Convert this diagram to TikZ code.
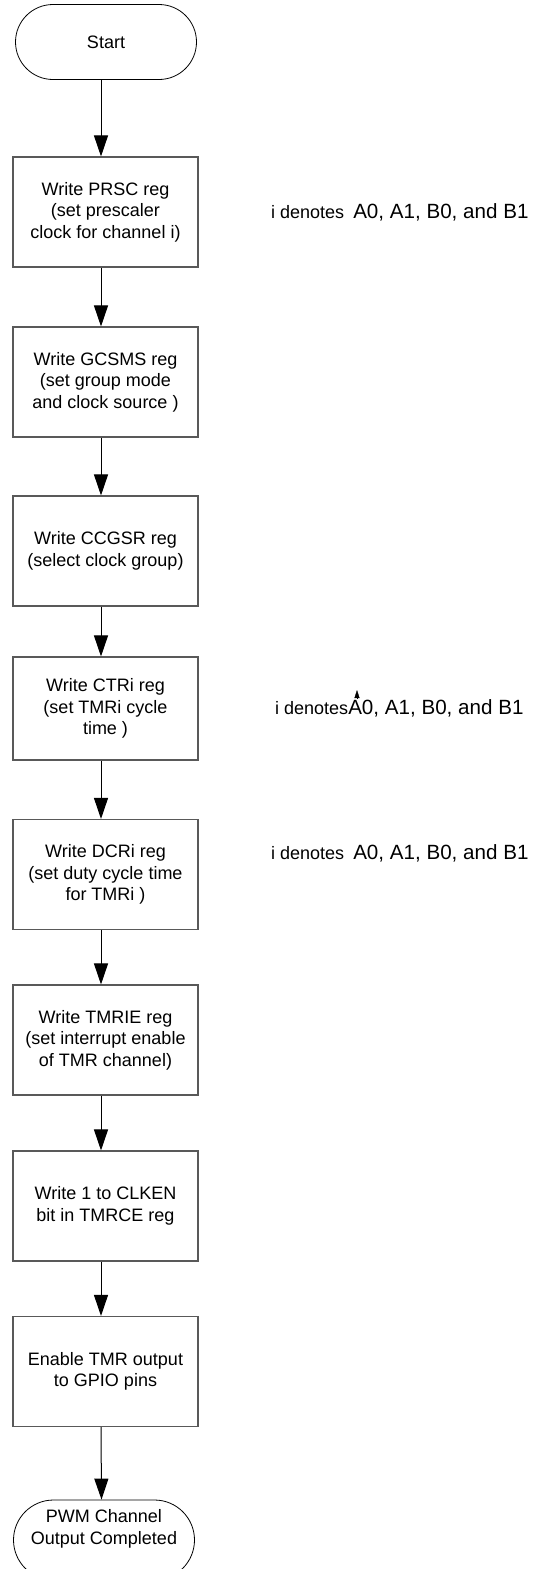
\documentclass[tikz,border=0pt]{standalone}
\usepackage{fontspec}
\setmainfont{Liberation Sans}
\usetikzlibrary{arrows.meta,shapes.misc}

\begin{document}
\begin{tikzpicture}[x=1pt,y=-1pt,
  stepbox/.style={draw=black!65,line width=1.1pt,minimum width=185pt,minimum height=110pt,align=center,inner sep=2pt,font=\fontsize{18}{21.6}\selectfont},
  termbox/.style={draw,line width=.8pt,rounded rectangle,minimum width=185pt,minimum height=75pt,align=center,inner sep=2pt,font=\fontsize{18}{21.6}\selectfont},
  flow/.style={line width=1pt,-{Triangle[width=14pt,length=21pt]}},
  note/.style={anchor=west,inner sep=0pt,font=\fontsize{18}{21.6}\selectfont}]
\useasboundingbox (0,0) rectangle (534,1569);
% flow steps
\node[termbox] (start) at (106,42) {Start};
\node[stepbox] (prsc) at (105.5,212) {Write PRSC reg\\(set prescaler\\clock for channel i)};
\node[stepbox] (gcsms) at (105.5,382) {Write GCSMS reg\\(set group mode\\and clock source )};
\node[stepbox] (ccgsr) at (105.5,551) {Write CCGSR reg\\(select clock group)};
\node[stepbox,minimum height=103pt] (ctri) at (105.5,708.5) {Write CTRi reg\\(set TMRi cycle\\time )};
\node[stepbox] (dcri) at (105.5,874.5) {Write DCRi reg\\(set duty cycle time\\for TMRi )};
\node[stepbox] (tmrie) at (105.5,1040) {Write TMRIE reg\\(set interrupt enable\\of TMR channel)};
\node[stepbox] (clken) at (105.5,1206) {Write 1 to CLKEN\\bit in TMRCE reg};
\node[stepbox] (gpio) at (105.5,1371.5) {Enable TMR output\\to GPIO pins};
\node[termbox,minimum height=80pt] (done) at (104,1540) {PWM Channel\\Output Completed\\[4pt]};
% arrows
\draw[flow] ([xshift=-5pt]start.south) -- ([xshift=-4.5pt]prsc.north);
\draw[flow] ([xshift=-4.5pt]prsc.south) -- ([xshift=-4.5pt]gcsms.north);
\draw[flow] ([xshift=-4.5pt]gcsms.south) -- ([xshift=-4.5pt]ccgsr.north);
\draw[flow] ([xshift=-4.5pt]ccgsr.south) -- ([xshift=-4.5pt]ctri.north);
\draw[flow] ([xshift=-4.5pt]ctri.south) -- ([xshift=-4.5pt]dcri.north);
\draw[flow] ([xshift=-4.5pt]dcri.south) -- ([xshift=-4.5pt]tmrie.north);
\draw[flow] ([xshift=-4.5pt]tmrie.south) -- ([xshift=-4.5pt]clken.north);
\draw[flow] ([xshift=-4.5pt]clken.south) -- ([xshift=-4.5pt]gpio.north);
\draw[flow] ([xshift=-4.5pt]gpio.south) -- ([xshift=-2.5pt]done.north);
% notes
\node[note] (noteprsc) at (271,212) {i denotes\hspace{9pt}{\fontsize{20.6}{24}\selectfont A0, A1, B0, and B1}};
\node[note] (notectri) at (275,708) {i denotes{\fontsize{20.6}{24}\selectfont A0, A1, B0, and B1}};
\node[note] (notedcri) at (271,853) {i denotes\hspace{9pt}{\fontsize{20.6}{24}\selectfont A0, A1, B0, and B1}};
\draw[-{Triangle[width=5pt,length=8pt]}] (357,699) -- (357,690);
\end{tikzpicture}
\end{document}
